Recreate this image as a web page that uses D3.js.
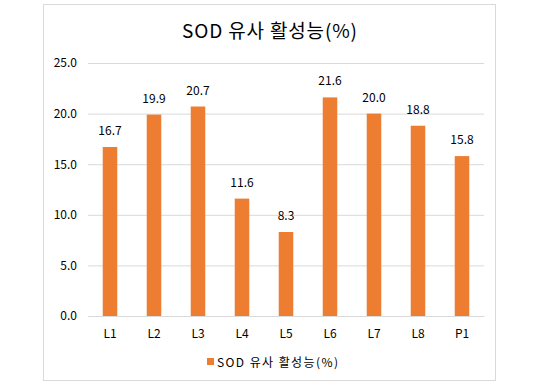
<!DOCTYPE html>
<html>
<head>
<meta charset="utf-8">
<script src="https://cdn.jsdelivr.net/npm/d3@7"></script>
<style>
  body { margin: 0; background: #fff; }
  text { font-family: "Noto Sans CJK KR", "Noto Sans", sans-serif; }
</style>
</head>
<body>
<div class="svg-container"></div>
<script>
// chart data
var categories = ['L1', 'L2', 'L3', 'L4', 'L5', 'L6', 'L7', 'L8', 'P1'];
var values = [16.7, 19.9, 20.7, 11.6, 8.3, 21.6, 20.0, 18.8, 15.8];
var yTicks = [0, 5, 10, 15, 20, 25];
var seriesName = 'SOD 유사 활성능(%)';

var W = 540, H = 385;
var plot = { left: 88, right: 484, top: 63, bottom: 316 };
var barColor = '#ED7D31';
var numFont = '"Noto Sans", sans-serif';

var svg = d3.select('.svg-container').append('svg')
  .attr('width', W).attr('height', H);

// chart frame
svg.append('rect')
  .attr('x', 43.5).attr('y', 4.5)
  .attr('width', 452).attr('height', 376)
  .attr('fill', '#fff').attr('stroke', '#d9d9d9');

svg.append('text')
  .attr('x', 182).attr('y', 38)
  .attr('font-size', 19).attr('fill', '#000')
  .attr('textLength', 175).attr('lengthAdjust', 'spacing')
  .text(seriesName);

var x = d3.scaleBand().domain(categories)
  .range([plot.left, plot.right]).paddingInner(0.67).paddingOuter(0.335);
var y = d3.scaleLinear().domain([0, 25]).range([plot.bottom, plot.top]);

// gridlines + y labels
var yAxis = d3.axisLeft(y).tickValues(yTicks)
  .tickSize(-(plot.right - plot.left)).tickPadding(11)
  .tickFormat(d3.format('.1f'));
var gy = svg.append('g').attr('transform', 'translate(' + plot.left + ',0)').call(yAxis);
gy.select('.domain').remove();
gy.selectAll('.tick line').attr('stroke', '#d9d9d9');
gy.selectAll('.tick text').attr('font-size', 12).attr('fill', '#000')
  .attr('font-family', numFont);

// bars
svg.selectAll('rect.bar').data(values).enter().append('rect')
  .classed('bar', true)
  .attr('x', function(d, i) { return x(categories[i]); })
  .attr('y', function(d) { return y(d); })
  .attr('width', x.bandwidth())
  .attr('height', function(d) { return y(0) - y(d); })
  .attr('fill', barColor);

// value labels
svg.selectAll('text.val').data(values).enter().append('text')
  .classed('val', true)
  .attr('x', function(d, i) { return x(categories[i]) + x.bandwidth() / 2; })
  .attr('y', function(d) { return y(d) - 12; })
  .attr('text-anchor', 'middle')
  .attr('font-size', 12).attr('fill', '#000')
  .attr('font-family', numFont)
  .text(function(d) { return d.toFixed(1); });

// x axis
var xAxis = d3.axisBottom(x).tickSize(0).tickPadding(13);
var gx = svg.append('g').attr('transform', 'translate(0,' + plot.bottom + ')').call(xAxis);
gx.select('.domain').attr('stroke', '#d9d9d9');
gx.selectAll('.tick text').attr('font-size', 12).attr('fill', '#000')
  .attr('font-family', numFont);

// legend
var lg = svg.append('g').attr('transform', 'translate(207,362)');
lg.append('rect').attr('x', 0).attr('y', -4).attr('width', 7).attr('height', 7).attr('fill', barColor);
lg.append('text').attr('x', 10).attr('y', 4.5)
  .attr('font-size', 12).attr('fill', '#000')
  .attr('textLength', 121).attr('lengthAdjust', 'spacing')
  .text(seriesName);
</script>
</body>
</html>
